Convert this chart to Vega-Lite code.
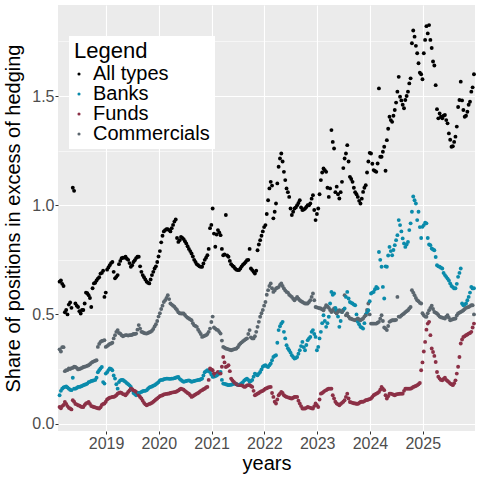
{
"$schema": "https://vega.github.io/schema/vega-lite/v6.json",
"width": 417, "height": 426,
"autosize": {"type": "none"},
"padding": {"left": 58, "top": 5, "right": 5, "bottom": 49},
"background": "white",
"config": {"view": {"fill": "#EBEBEB", "stroke": null}, "font": "Liberation Sans"},
"data": {"values": [
{"t":2018.12,"All types":0.65,"Banks":0.13,"Funds":0.076,"Commercials":0.34},
{"t":2018.145,"All types":0.655,"Banks":0.15,"Funds":0.07,"Commercials":0.33},
{"t":2018.17,"All types":0.64,"Banks":0.16,"Funds":0.08,"Commercials":0.35},
{"t":2018.195,"All types":0.63,"Banks":0.165,"Funds":0.085,"Commercials":0.35},
{"t":2018.22,"All types":0.51,"Banks":0.168,"Funds":0.099,"Commercials":0.24},
{"t":2018.245,"All types":0.52,"Banks":0.17,"Funds":0.09,"Commercials":0.244},
{"t":2018.27,"All types":0.50,"Banks":0.165,"Funds":0.08,"Commercials":0.245},
{"t":2018.295,"All types":0.545,"Banks":0.16,"Funds":0.072,"Commercials":0.252},
{"t":2018.32,"All types":0.555,"Banks":0.155,"Funds":0.069,"Commercials":0.25},
{"t":2018.345,"All types":0.53,"Banks":0.153,"Funds":0.065,"Commercials":0.254},
{"t":2018.37,"All types":1.08,"Banks":0.21,"Funds":0.107,"Commercials":0.255},
{"t":2018.395,"All types":1.066,"Banks":0.16,"Funds":0.1,"Commercials":0.26},
{"t":2018.42,"All types":0.55,"Banks":0.16,"Funds":0.09,"Commercials":0.259},
{"t":2018.445,"All types":0.54,"Banks":0.163,"Funds":0.088,"Commercials":0.255},
{"t":2018.47,"All types":0.534,"Banks":0.168,"Funds":0.084,"Commercials":0.248},
{"t":2018.495,"All types":0.515,"Banks":0.168,"Funds":0.082,"Commercials":0.25},
{"t":2018.52,"All types":0.504,"Banks":0.17,"Funds":0.078,"Commercials":0.252},
{"t":2018.545,"All types":0.52,"Banks":0.172,"Funds":0.076,"Commercials":0.255},
{"t":2018.57,"All types":0.52,"Banks":0.176,"Funds":0.076,"Commercials":0.259},
{"t":2018.595,"All types":0.55,"Banks":0.178,"Funds":0.085,"Commercials":0.26},
{"t":2018.62,"All types":0.60,"Banks":0.18,"Funds":0.092,"Commercials":0.262},
{"t":2018.645,"All types":0.597,"Banks":0.183,"Funds":0.095,"Commercials":0.265},
{"t":2018.67,"All types":0.588,"Banks":0.19,"Funds":0.099,"Commercials":0.267},
{"t":2018.695,"All types":0.575,"Banks":0.191,"Funds":0.09,"Commercials":0.272},
{"t":2018.72,"All types":0.534,"Banks":0.195,"Funds":0.08,"Commercials":0.278},
{"t":2018.745,"All types":0.62,"Banks":0.196,"Funds":0.078,"Commercials":0.282},
{"t":2018.77,"All types":0.642,"Banks":0.198,"Funds":0.076,"Commercials":0.285},
{"t":2018.795,"All types":0.645,"Banks":0.2,"Funds":0.074,"Commercials":0.288},
{"t":2018.82,"All types":0.655,"Banks":0.21,"Funds":0.072,"Commercials":0.29},
{"t":2018.845,"All types":0.664,"Banks":0.235,"Funds":0.07,"Commercials":0.351},
{"t":2018.87,"All types":0.67,"Banks":0.244,"Funds":0.069,"Commercials":0.365},
{"t":2018.895,"All types":0.687,"Banks":0.252,"Funds":0.075,"Commercials":0.374},
{"t":2018.92,"All types":0.69,"Banks":0.259,"Funds":0.085,"Commercials":0.378},
{"t":2018.945,"All types":0.70,"Banks":0.19,"Funds":0.09,"Commercials":0.38},
{"t":2018.97,"All types":0.58,"Banks":0.183,"Funds":0.092,"Commercials":0.382},
{"t":2018.995,"All types":0.60,"Banks":0.229,"Funds":0.1,"Commercials":0.351},
{"t":2019.02,"All types":0.705,"Banks":0.235,"Funds":0.11,"Commercials":0.355},
{"t":2019.045,"All types":0.715,"Banks":0.245,"Funds":0.115,"Commercials":0.36},
{"t":2019.07,"All types":0.725,"Banks":0.252,"Funds":0.118,"Commercials":0.365},
{"t":2019.095,"All types":0.735,"Banks":0.25,"Funds":0.12,"Commercials":0.367},
{"t":2019.12,"All types":0.74,"Banks":0.244,"Funds":0.122,"Commercials":0.37},
{"t":2019.145,"All types":0.695,"Banks":0.22,"Funds":0.122,"Commercials":0.39},
{"t":2019.17,"All types":0.665,"Banks":0.206,"Funds":0.125,"Commercials":0.405},
{"t":2019.195,"All types":0.672,"Banks":0.18,"Funds":0.13,"Commercials":0.42},
{"t":2019.22,"All types":0.68,"Banks":0.16,"Funds":0.137,"Commercials":0.428},
{"t":2019.245,"All types":0.73,"Banks":0.19,"Funds":0.14,"Commercials":0.415},
{"t":2019.27,"All types":0.745,"Banks":0.198,"Funds":0.143,"Commercials":0.412},
{"t":2019.295,"All types":0.757,"Banks":0.2,"Funds":0.14,"Commercials":0.405},
{"t":2019.32,"All types":0.76,"Banks":0.2,"Funds":0.135,"Commercials":0.40},
{"t":2019.345,"All types":0.76,"Banks":0.195,"Funds":0.133,"Commercials":0.403},
{"t":2019.37,"All types":0.764,"Banks":0.191,"Funds":0.13,"Commercials":0.405},
{"t":2019.395,"All types":0.755,"Banks":0.185,"Funds":0.137,"Commercials":0.405},
{"t":2019.42,"All types":0.75,"Banks":0.18,"Funds":0.145,"Commercials":0.403},
{"t":2019.445,"All types":0.735,"Banks":0.175,"Funds":0.152,"Commercials":0.405},
{"t":2019.47,"All types":0.718,"Banks":0.168,"Funds":0.16,"Commercials":0.405},
{"t":2019.495,"All types":0.725,"Banks":0.155,"Funds":0.157,"Commercials":0.407},
{"t":2019.52,"All types":0.74,"Banks":0.14,"Funds":0.152,"Commercials":0.41},
{"t":2019.545,"All types":0.748,"Banks":0.135,"Funds":0.15,"Commercials":0.41},
{"t":2019.57,"All types":0.758,"Banks":0.13,"Funds":0.145,"Commercials":0.412},
{"t":2019.595,"All types":0.764,"Banks":0.135,"Funds":0.14,"Commercials":0.43},
{"t":2019.62,"All types":0.764,"Banks":0.14,"Funds":0.13,"Commercials":0.451},
{"t":2019.645,"All types":0.72,"Banks":0.142,"Funds":0.122,"Commercials":0.435},
{"t":2019.67,"All types":0.695,"Banks":0.145,"Funds":0.115,"Commercials":0.42},
{"t":2019.695,"All types":0.68,"Banks":0.148,"Funds":0.105,"Commercials":0.418},
{"t":2019.72,"All types":0.67,"Banks":0.15,"Funds":0.095,"Commercials":0.415},
{"t":2019.745,"All types":0.66,"Banks":0.15,"Funds":0.088,"Commercials":0.413},
{"t":2019.77,"All types":0.65,"Banks":0.153,"Funds":0.084,"Commercials":0.412},
{"t":2019.795,"All types":0.645,"Banks":0.16,"Funds":0.087,"Commercials":0.415},
{"t":2019.82,"All types":0.642,"Banks":0.165,"Funds":0.09,"Commercials":0.418},
{"t":2019.845,"All types":0.66,"Banks":0.168,"Funds":0.092,"Commercials":0.42},
{"t":2019.87,"All types":0.68,"Banks":0.17,"Funds":0.095,"Commercials":0.425},
{"t":2019.895,"All types":0.695,"Banks":0.173,"Funds":0.1,"Commercials":0.433},
{"t":2019.92,"All types":0.71,"Banks":0.176,"Funds":0.105,"Commercials":0.445},
{"t":2019.945,"All types":0.72,"Banks":0.18,"Funds":0.11,"Commercials":0.455},
{"t":2019.97,"All types":0.74,"Banks":0.185,"Funds":0.115,"Commercials":0.47},
{"t":2019.995,"All types":0.765,"Banks":0.19,"Funds":0.12,"Commercials":0.49},
{"t":2020.02,"All types":0.79,"Banks":0.198,"Funds":0.125,"Commercials":0.505},
{"t":2020.045,"All types":0.83,"Banks":0.2,"Funds":0.128,"Commercials":0.525},
{"t":2020.07,"All types":0.86,"Banks":0.2,"Funds":0.13,"Commercials":0.54},
{"t":2020.095,"All types":0.88,"Banks":0.203,"Funds":0.133,"Commercials":0.557},
{"t":2020.12,"All types":0.886,"Banks":0.205,"Funds":0.135,"Commercials":0.565},
{"t":2020.145,"All types":0.89,"Banks":0.206,"Funds":0.136,"Commercials":0.575},
{"t":2020.17,"All types":0.89,"Banks":0.206,"Funds":0.137,"Commercials":0.588},
{"t":2020.195,"All types":0.886,"Banks":0.205,"Funds":0.138,"Commercials":0.57},
{"t":2020.22,"All types":0.88,"Banks":0.205,"Funds":0.14,"Commercials":0.55},
{"t":2020.245,"All types":0.895,"Banks":0.206,"Funds":0.142,"Commercials":0.545},
{"t":2020.27,"All types":0.91,"Banks":0.206,"Funds":0.143,"Commercials":0.54},
{"t":2020.295,"All types":0.925,"Banks":0.208,"Funds":0.144,"Commercials":0.535},
{"t":2020.32,"All types":0.935,"Banks":0.21,"Funds":0.145,"Commercials":0.527},
{"t":2020.345,"All types":0.85,"Banks":0.212,"Funds":0.148,"Commercials":0.52},
{"t":2020.37,"All types":0.832,"Banks":0.214,"Funds":0.152,"Commercials":0.51},
{"t":2020.395,"All types":0.84,"Banks":0.205,"Funds":0.156,"Commercials":0.505},
{"t":2020.42,"All types":0.855,"Banks":0.2,"Funds":0.16,"Commercials":0.504},
{"t":2020.445,"All types":0.85,"Banks":0.195,"Funds":0.158,"Commercials":0.504},
{"t":2020.47,"All types":0.845,"Banks":0.191,"Funds":0.155,"Commercials":0.504},
{"t":2020.495,"All types":0.835,"Banks":0.193,"Funds":0.15,"Commercials":0.497},
{"t":2020.52,"All types":0.825,"Banks":0.195,"Funds":0.145,"Commercials":0.49},
{"t":2020.545,"All types":0.812,"Banks":0.197,"Funds":0.14,"Commercials":0.485},
{"t":2020.57,"All types":0.80,"Banks":0.198,"Funds":0.137,"Commercials":0.481},
{"t":2020.595,"All types":0.79,"Banks":0.195,"Funds":0.13,"Commercials":0.477},
{"t":2020.62,"All types":0.779,"Banks":0.191,"Funds":0.122,"Commercials":0.473},
{"t":2020.645,"All types":0.765,"Banks":0.193,"Funds":0.125,"Commercials":0.46},
{"t":2020.67,"All types":0.75,"Banks":0.195,"Funds":0.13,"Commercials":0.45},
{"t":2020.695,"All types":0.74,"Banks":0.197,"Funds":0.133,"Commercials":0.447},
{"t":2020.72,"All types":0.73,"Banks":0.198,"Funds":0.137,"Commercials":0.443},
{"t":2020.745,"All types":0.725,"Banks":0.2,"Funds":0.14,"Commercials":0.43},
{"t":2020.77,"All types":0.72,"Banks":0.2,"Funds":0.145,"Commercials":0.42},
{"t":2020.795,"All types":0.718,"Banks":0.203,"Funds":0.15,"Commercials":0.41},
{"t":2020.82,"All types":0.718,"Banks":0.206,"Funds":0.153,"Commercials":0.397},
{"t":2020.845,"All types":0.733,"Banks":0.22,"Funds":0.157,"Commercials":0.40},
{"t":2020.87,"All types":0.75,"Banks":0.235,"Funds":0.16,"Commercials":0.402},
{"t":2020.895,"All types":0.76,"Banks":0.24,"Funds":0.165,"Commercials":0.405},
{"t":2020.92,"All types":0.771,"Banks":0.244,"Funds":0.168,"Commercials":0.41},
{"t":2020.945,"All types":0.80,"Banks":0.24,"Funds":0.2,"Commercials":0.42},
{"t":2020.97,"All types":0.895,"Banks":0.236,"Funds":0.252,"Commercials":0.435},
{"t":2020.995,"All types":0.91,"Banks":0.225,"Funds":0.248,"Commercials":0.465},
{"t":2021.02,"All types":0.985,"Banks":0.214,"Funds":0.244,"Commercials":0.49},
{"t":2021.045,"All types":0.87,"Banks":0.215,"Funds":0.23,"Commercials":0.44},
{"t":2021.07,"All types":0.81,"Banks":0.218,"Funds":0.221,"Commercials":0.435},
{"t":2021.095,"All types":0.866,"Banks":0.22,"Funds":0.23,"Commercials":0.43},
{"t":2021.12,"All types":0.886,"Banks":0.225,"Funds":0.236,"Commercials":0.428},
{"t":2021.145,"All types":0.875,"Banks":0.23,"Funds":0.233,"Commercials":0.42},
{"t":2021.17,"All types":0.863,"Banks":0.236,"Funds":0.229,"Commercials":0.412},
{"t":2021.195,"All types":0.80,"Banks":0.2,"Funds":0.26,"Commercials":0.38},
{"t":2021.22,"All types":0.771,"Banks":0.183,"Funds":0.305,"Commercials":0.351},
{"t":2021.245,"All types":0.775,"Banks":0.182,"Funds":0.28,"Commercials":0.347},
{"t":2021.27,"All types":0.955,"Banks":0.18,"Funds":0.259,"Commercials":0.344},
{"t":2021.295,"All types":0.77,"Banks":0.178,"Funds":0.262,"Commercials":0.342},
{"t":2021.32,"All types":0.764,"Banks":0.176,"Funds":0.267,"Commercials":0.34},
{"t":2021.345,"All types":0.745,"Banks":0.177,"Funds":0.24,"Commercials":0.338},
{"t":2021.37,"All types":0.73,"Banks":0.178,"Funds":0.206,"Commercials":0.336},
{"t":2021.395,"All types":0.723,"Banks":0.18,"Funds":0.198,"Commercials":0.338},
{"t":2021.42,"All types":0.718,"Banks":0.183,"Funds":0.191,"Commercials":0.34},
{"t":2021.445,"All types":0.71,"Banks":0.182,"Funds":0.185,"Commercials":0.342},
{"t":2021.47,"All types":0.705,"Banks":0.18,"Funds":0.18,"Commercials":0.344},
{"t":2021.495,"All types":0.703,"Banks":0.178,"Funds":0.178,"Commercials":0.35},
{"t":2021.52,"All types":0.703,"Banks":0.176,"Funds":0.176,"Commercials":0.36},
{"t":2021.545,"All types":0.71,"Banks":0.18,"Funds":0.176,"Commercials":0.367},
{"t":2021.57,"All types":0.72,"Banks":0.185,"Funds":0.176,"Commercials":0.372},
{"t":2021.595,"All types":0.728,"Banks":0.19,"Funds":0.172,"Commercials":0.377},
{"t":2021.62,"All types":0.733,"Banks":0.198,"Funds":0.168,"Commercials":0.382},
{"t":2021.645,"All types":0.74,"Banks":0.202,"Funds":0.17,"Commercials":0.386},
{"t":2021.67,"All types":0.748,"Banks":0.206,"Funds":0.175,"Commercials":0.39},
{"t":2021.695,"All types":0.75,"Banks":0.2,"Funds":0.176,"Commercials":0.41},
{"t":2021.72,"All types":0.80,"Banks":0.191,"Funds":0.176,"Commercials":0.428},
{"t":2021.745,"All types":0.71,"Banks":0.195,"Funds":0.172,"Commercials":0.395},
{"t":2021.77,"All types":0.703,"Banks":0.2,"Funds":0.168,"Commercials":0.39},
{"t":2021.795,"All types":0.695,"Banks":0.215,"Funds":0.15,"Commercials":0.39},
{"t":2021.82,"All types":0.687,"Banks":0.229,"Funds":0.13,"Commercials":0.40},
{"t":2021.845,"All types":0.70,"Banks":0.225,"Funds":0.133,"Commercials":0.42},
{"t":2021.87,"All types":0.794,"Banks":0.221,"Funds":0.137,"Commercials":0.443},
{"t":2021.895,"All types":0.82,"Banks":0.229,"Funds":0.14,"Commercials":0.466},
{"t":2021.92,"All types":0.84,"Banks":0.236,"Funds":0.145,"Commercials":0.489},
{"t":2021.945,"All types":0.86,"Banks":0.248,"Funds":0.148,"Commercials":0.505},
{"t":2021.97,"All types":0.88,"Banks":0.26,"Funds":0.15,"Commercials":0.52},
{"t":2021.995,"All types":0.9,"Banks":0.265,"Funds":0.155,"Commercials":0.54},
{"t":2022.02,"All types":0.909,"Banks":0.267,"Funds":0.16,"Commercials":0.557},
{"t":2022.045,"All types":0.96,"Banks":0.262,"Funds":0.162,"Commercials":0.59},
{"t":2022.07,"All types":1.023,"Banks":0.259,"Funds":0.165,"Commercials":0.611},
{"t":2022.095,"All types":1.077,"Banks":0.267,"Funds":0.167,"Commercials":0.63},
{"t":2022.12,"All types":1.107,"Banks":0.275,"Funds":0.168,"Commercials":0.642},
{"t":2022.145,"All types":1.09,"Banks":0.29,"Funds":0.14,"Commercials":0.62},
{"t":2022.17,"All types":0.94,"Banks":0.305,"Funds":0.122,"Commercials":0.603},
{"t":2022.195,"All types":0.97,"Banks":0.31,"Funds":0.1,"Commercials":0.61},
{"t":2022.22,"All types":1.008,"Banks":0.313,"Funds":0.092,"Commercials":0.619},
{"t":2022.245,"All types":1.1,"Banks":0.37,"Funds":0.11,"Commercials":0.622},
{"t":2022.27,"All types":1.176,"Banks":0.428,"Funds":0.13,"Commercials":0.625},
{"t":2022.295,"All types":1.214,"Banks":0.446,"Funds":0.137,"Commercials":0.635},
{"t":2022.32,"All types":1.237,"Banks":0.458,"Funds":0.145,"Commercials":0.642},
{"t":2022.345,"All types":1.2,"Banks":0.466,"Funds":0.14,"Commercials":0.63},
{"t":2022.37,"All types":1.153,"Banks":0.42,"Funds":0.13,"Commercials":0.619},
{"t":2022.395,"All types":1.115,"Banks":0.39,"Funds":0.125,"Commercials":0.61},
{"t":2022.42,"All types":1.077,"Banks":0.359,"Funds":0.122,"Commercials":0.603},
{"t":2022.445,"All types":1.06,"Banks":0.345,"Funds":0.12,"Commercials":0.6},
{"t":2022.47,"All types":1.038,"Banks":0.336,"Funds":0.118,"Commercials":0.59},
{"t":2022.495,"All types":0.985,"Banks":0.325,"Funds":0.116,"Commercials":0.585},
{"t":2022.52,"All types":0.955,"Banks":0.313,"Funds":0.115,"Commercials":0.58},
{"t":2022.545,"All types":0.97,"Banks":0.305,"Funds":0.118,"Commercials":0.572},
{"t":2022.57,"All types":0.985,"Banks":0.298,"Funds":0.122,"Commercials":0.565},
{"t":2022.595,"All types":0.99,"Banks":0.3,"Funds":0.122,"Commercials":0.572},
{"t":2022.62,"All types":1.00,"Banks":0.305,"Funds":0.122,"Commercials":0.58},
{"t":2022.645,"All types":1.01,"Banks":0.32,"Funds":0.105,"Commercials":0.572},
{"t":2022.67,"All types":1.023,"Banks":0.336,"Funds":0.092,"Commercials":0.565},
{"t":2022.695,"All types":0.99,"Banks":0.355,"Funds":0.08,"Commercials":0.56},
{"t":2022.72,"All types":0.978,"Banks":0.374,"Funds":0.069,"Commercials":0.557},
{"t":2022.745,"All types":0.98,"Banks":0.35,"Funds":0.069,"Commercials":0.553},
{"t":2022.77,"All types":0.985,"Banks":0.336,"Funds":0.069,"Commercials":0.55},
{"t":2022.795,"All types":0.992,"Banks":0.36,"Funds":0.072,"Commercials":0.55},
{"t":2022.82,"All types":1.0,"Banks":0.382,"Funds":0.076,"Commercials":0.55},
{"t":2022.845,"All types":1.0,"Banks":0.39,"Funds":0.074,"Commercials":0.557},
{"t":2022.87,"All types":1.008,"Banks":0.397,"Funds":0.072,"Commercials":0.565},
{"t":2022.895,"All types":1.03,"Banks":0.42,"Funds":0.07,"Commercials":0.58},
{"t":2022.92,"All types":1.046,"Banks":0.428,"Funds":0.069,"Commercials":0.596},
{"t":2022.945,"All types":0.978,"Banks":0.41,"Funds":0.08,"Commercials":0.565},
{"t":2022.97,"All types":0.932,"Banks":0.397,"Funds":0.092,"Commercials":0.534},
{"t":2022.995,"All types":0.96,"Banks":0.336,"Funds":0.084,"Commercials":0.532},
{"t":2023.02,"All types":0.985,"Banks":0.351,"Funds":0.076,"Commercials":0.53},
{"t":2023.045,"All types":1.05,"Banks":0.39,"Funds":0.11,"Commercials":0.528},
{"t":2023.07,"All types":1.115,"Banks":0.42,"Funds":0.137,"Commercials":0.527},
{"t":2023.095,"All types":1.15,"Banks":0.46,"Funds":0.14,"Commercials":0.523},
{"t":2023.12,"All types":1.168,"Banks":0.496,"Funds":0.145,"Commercials":0.519},
{"t":2023.145,"All types":1.16,"Banks":0.47,"Funds":0.15,"Commercials":0.53},
{"t":2023.17,"All types":1.153,"Banks":0.443,"Funds":0.153,"Commercials":0.542},
{"t":2023.195,"All types":1.08,"Banks":0.46,"Funds":0.157,"Commercials":0.536},
{"t":2023.22,"All types":1.038,"Banks":0.489,"Funds":0.16,"Commercials":0.53},
{"t":2023.245,"All types":1.077,"Banks":0.55,"Funds":0.16,"Commercials":0.52},
{"t":2023.27,"All types":1.344,"Banks":0.603,"Funds":0.16,"Commercials":0.511},
{"t":2023.295,"All types":1.29,"Banks":0.59,"Funds":0.13,"Commercials":0.519},
{"t":2023.32,"All types":1.26,"Banks":0.596,"Funds":0.115,"Commercials":0.527},
{"t":2023.345,"All types":1.06,"Banks":0.53,"Funds":0.1,"Commercials":0.51},
{"t":2023.37,"All types":1.085,"Banks":0.519,"Funds":0.092,"Commercials":0.504},
{"t":2023.395,"All types":1.05,"Banks":0.49,"Funds":0.088,"Commercials":0.512},
{"t":2023.42,"All types":1.031,"Banks":0.443,"Funds":0.084,"Commercials":0.519},
{"t":2023.445,"All types":1.06,"Banks":0.47,"Funds":0.09,"Commercials":0.515},
{"t":2023.47,"All types":1.107,"Banks":0.511,"Funds":0.095,"Commercials":0.511},
{"t":2023.495,"All types":1.17,"Banks":0.52,"Funds":0.1,"Commercials":0.52},
{"t":2023.52,"All types":1.214,"Banks":0.527,"Funds":0.107,"Commercials":0.588},
{"t":2023.545,"All types":1.237,"Banks":0.58,"Funds":0.122,"Commercials":0.496},
{"t":2023.57,"All types":1.275,"Banks":0.603,"Funds":0.137,"Commercials":0.504},
{"t":2023.595,"All types":1.2,"Banks":0.573,"Funds":0.115,"Commercials":0.49},
{"t":2023.62,"All types":1.13,"Banks":0.557,"Funds":0.099,"Commercials":0.481},
{"t":2023.645,"All types":1.12,"Banks":0.553,"Funds":0.097,"Commercials":0.48},
{"t":2023.67,"All types":1.107,"Banks":0.55,"Funds":0.095,"Commercials":0.477},
{"t":2023.695,"All types":1.08,"Banks":0.545,"Funds":0.093,"Commercials":0.475},
{"t":2023.72,"All types":1.06,"Banks":0.542,"Funds":0.092,"Commercials":0.473},
{"t":2023.745,"All types":1.05,"Banks":0.5,"Funds":0.091,"Commercials":0.477},
{"t":2023.77,"All types":1.038,"Banks":0.466,"Funds":0.09,"Commercials":0.481},
{"t":2023.795,"All types":1.02,"Banks":0.455,"Funds":0.094,"Commercials":0.477},
{"t":2023.82,"All types":1.008,"Banks":0.443,"Funds":0.099,"Commercials":0.473},
{"t":2023.845,"All types":1.03,"Banks":0.44,"Funds":0.1,"Commercials":0.477},
{"t":2023.87,"All types":1.061,"Banks":0.435,"Funds":0.1,"Commercials":0.481},
{"t":2023.895,"All types":1.08,"Banks":0.46,"Funds":0.103,"Commercials":0.49},
{"t":2023.92,"All types":1.092,"Banks":0.5,"Funds":0.107,"Commercials":0.496},
{"t":2023.945,"All types":1.15,"Banks":0.51,"Funds":0.108,"Commercials":0.52},
{"t":2023.97,"All types":1.2,"Banks":0.519,"Funds":0.11,"Commercials":0.55},
{"t":2023.995,"All types":1.24,"Banks":0.56,"Funds":0.112,"Commercials":0.5},
{"t":2024.02,"All types":1.237,"Banks":0.596,"Funds":0.115,"Commercials":0.458},
{"t":2024.045,"All types":1.19,"Banks":0.6,"Funds":0.122,"Commercials":0.458},
{"t":2024.07,"All types":1.161,"Banks":0.603,"Funds":0.13,"Commercials":0.458},
{"t":2024.095,"All types":1.157,"Banks":0.615,"Funds":0.133,"Commercials":0.458},
{"t":2024.12,"All types":1.153,"Banks":0.626,"Funds":0.137,"Commercials":0.458},
{"t":2024.145,"All types":1.191,"Banks":0.62,"Funds":0.14,"Commercials":0.462},
{"t":2024.17,"All types":1.535,"Banks":0.786,"Funds":0.145,"Commercials":0.466},
{"t":2024.195,"All types":1.222,"Banks":0.75,"Funds":0.155,"Commercials":0.48},
{"t":2024.22,"All types":1.222,"Banks":0.718,"Funds":0.168,"Commercials":0.496},
{"t":2024.245,"All types":1.245,"Banks":0.626,"Funds":0.16,"Commercials":0.47},
{"t":2024.27,"All types":1.268,"Banks":0.573,"Funds":0.153,"Commercials":0.44},
{"t":2024.295,"All types":1.158,"Banks":0.72,"Funds":0.13,"Commercials":0.435},
{"t":2024.32,"All types":1.298,"Banks":0.718,"Funds":0.115,"Commercials":0.428},
{"t":2024.345,"All types":1.35,"Banks":0.77,"Funds":0.125,"Commercials":0.447},
{"t":2024.37,"All types":1.405,"Banks":0.809,"Funds":0.137,"Commercials":0.466},
{"t":2024.395,"All types":1.39,"Banks":0.79,"Funds":0.137,"Commercials":0.47},
{"t":2024.42,"All types":1.382,"Banks":0.771,"Funds":0.135,"Commercials":0.473},
{"t":2024.445,"All types":1.41,"Banks":0.795,"Funds":0.132,"Commercials":0.473},
{"t":2024.47,"All types":1.436,"Banks":0.817,"Funds":0.13,"Commercials":0.473},
{"t":2024.495,"All types":1.47,"Banks":0.84,"Funds":0.133,"Commercials":0.475},
{"t":2024.52,"All types":1.52,"Banks":0.863,"Funds":0.135,"Commercials":0.58},
{"t":2024.545,"All types":1.588,"Banks":0.932,"Funds":0.136,"Commercials":0.49},
{"t":2024.57,"All types":1.497,"Banks":0.909,"Funds":0.137,"Commercials":0.489},
{"t":2024.595,"All types":1.48,"Banks":0.88,"Funds":0.137,"Commercials":0.495},
{"t":2024.62,"All types":1.46,"Banks":0.848,"Funds":0.137,"Commercials":0.50},
{"t":2024.645,"All types":1.444,"Banks":0.825,"Funds":0.15,"Commercials":0.504},
{"t":2024.67,"All types":1.482,"Banks":0.809,"Funds":0.16,"Commercials":0.51},
{"t":2024.695,"All types":1.5,"Banks":0.82,"Funds":0.16,"Commercials":0.515},
{"t":2024.72,"All types":1.52,"Banks":0.832,"Funds":0.16,"Commercials":0.519},
{"t":2024.745,"All types":1.558,"Banks":0.886,"Funds":0.16,"Commercials":0.527},
{"t":2024.77,"All types":1.581,"Banks":0.917,"Funds":0.16,"Commercials":0.534},
{"t":2024.795,"All types":1.742,"Banks":0.97,"Funds":0.163,"Commercials":0.611},
{"t":2024.82,"All types":1.80,"Banks":1.04,"Funds":0.168,"Commercials":0.60},
{"t":2024.845,"All types":1.772,"Banks":1.023,"Funds":0.17,"Commercials":0.588},
{"t":2024.87,"All types":1.73,"Banks":1.008,"Funds":0.172,"Commercials":0.575},
{"t":2024.895,"All types":1.696,"Banks":0.932,"Funds":0.176,"Commercials":0.565},
{"t":2024.92,"All types":1.65,"Banks":0.97,"Funds":0.18,"Commercials":0.56},
{"t":2024.945,"All types":1.607,"Banks":0.9,"Funds":0.186,"Commercials":0.553},
{"t":2024.97,"All types":1.60,"Banks":0.85,"Funds":0.244,"Commercials":0.55},
{"t":2024.995,"All types":1.577,"Banks":0.901,"Funds":0.28,"Commercials":0.505},
{"t":2025.02,"All types":1.696,"Banks":0.909,"Funds":0.33,"Commercials":0.496},
{"t":2025.045,"All types":1.757,"Banks":0.92,"Funds":0.374,"Commercials":0.49},
{"t":2025.07,"All types":1.82,"Banks":0.917,"Funds":0.43,"Commercials":0.489},
{"t":2025.095,"All types":1.787,"Banks":0.85,"Funds":0.458,"Commercials":0.505},
{"t":2025.12,"All types":1.825,"Banks":0.82,"Funds":0.466,"Commercials":0.519},
{"t":2025.145,"All types":1.757,"Banks":0.817,"Funds":0.405,"Commercials":0.53},
{"t":2025.17,"All types":1.72,"Banks":0.802,"Funds":0.344,"Commercials":0.54},
{"t":2025.195,"All types":1.658,"Banks":0.797,"Funds":0.328,"Commercials":0.525},
{"t":2025.22,"All types":1.64,"Banks":0.794,"Funds":0.31,"Commercials":0.511},
{"t":2025.245,"All types":1.55,"Banks":0.763,"Funds":0.282,"Commercials":0.508},
{"t":2025.27,"All types":1.44,"Banks":0.725,"Funds":0.236,"Commercials":0.504},
{"t":2025.295,"All types":1.398,"Banks":0.72,"Funds":0.215,"Commercials":0.497},
{"t":2025.32,"All types":1.42,"Banks":0.718,"Funds":0.206,"Commercials":0.49},
{"t":2025.345,"All types":1.405,"Banks":0.714,"Funds":0.2,"Commercials":0.487},
{"t":2025.37,"All types":1.398,"Banks":0.71,"Funds":0.198,"Commercials":0.485},
{"t":2025.395,"All types":1.41,"Banks":0.69,"Funds":0.205,"Commercials":0.483},
{"t":2025.42,"All types":1.413,"Banks":0.68,"Funds":0.21,"Commercials":0.481},
{"t":2025.445,"All types":1.39,"Banks":0.672,"Funds":0.2,"Commercials":0.49},
{"t":2025.47,"All types":1.375,"Banks":0.664,"Funds":0.195,"Commercials":0.496},
{"t":2025.495,"All types":1.329,"Banks":0.655,"Funds":0.19,"Commercials":0.485},
{"t":2025.52,"All types":1.3,"Banks":0.642,"Funds":0.183,"Commercials":0.473},
{"t":2025.545,"All types":1.268,"Banks":0.63,"Funds":0.18,"Commercials":0.476},
{"t":2025.57,"All types":1.27,"Banks":0.625,"Funds":0.176,"Commercials":0.478},
{"t":2025.595,"All types":1.29,"Banks":0.619,"Funds":0.185,"Commercials":0.48},
{"t":2025.62,"All types":1.314,"Banks":0.62,"Funds":0.198,"Commercials":0.481},
{"t":2025.645,"All types":1.36,"Banks":0.64,"Funds":0.229,"Commercials":0.495},
{"t":2025.67,"All types":1.45,"Banks":0.672,"Funds":0.26,"Commercials":0.504},
{"t":2025.695,"All types":1.482,"Banks":0.69,"Funds":0.305,"Commercials":0.508},
{"t":2025.72,"All types":1.566,"Banks":0.71,"Funds":0.367,"Commercials":0.511},
{"t":2025.745,"All types":1.48,"Banks":0.55,"Funds":0.385,"Commercials":0.515},
{"t":2025.77,"All types":1.436,"Banks":0.542,"Funds":0.397,"Commercials":0.519},
{"t":2025.795,"All types":1.405,"Banks":0.545,"Funds":0.4,"Commercials":0.525},
{"t":2025.82,"All types":1.41,"Banks":0.55,"Funds":0.405,"Commercials":0.53},
{"t":2025.845,"All types":1.428,"Banks":0.565,"Funds":0.408,"Commercials":0.532},
{"t":2025.87,"All types":1.46,"Banks":0.58,"Funds":0.412,"Commercials":0.534},
{"t":2025.895,"All types":1.474,"Banks":0.6,"Funds":0.415,"Commercials":0.538},
{"t":2025.92,"All types":1.52,"Banks":0.626,"Funds":0.42,"Commercials":0.542},
{"t":2025.945,"All types":1.54,"Banks":0.619,"Funds":0.44,"Commercials":0.542},
{"t":2025.97,"All types":1.6,"Banks":0.62,"Funds":0.458,"Commercials":0.50}
]},
"transform": [{"fold": ["All types", "Banks", "Funds", "Commercials"], "as": ["series", "value"]}],
"mark": {"type": "circle", "size": 15, "opacity": 1},
"encoding": {
  "x": {"field": "t", "type": "quantitative",
    "scale": {"domain": [2018.09, 2025.99], "nice": false, "zero": false},
    "axis": {"title": "years", "values": [2019, 2020, 2021, 2022, 2023, 2024, 2025], "format": "d",
      "labelFontSize": 16, "labelColor": "#4D4D4D", "labelPadding": 1, "labelFlush": false,
      "tickColor": "#333333", "tickSize": 3, "tickWidth": 1, "domain": false,
      "gridColor": "white", "gridWidth": 1.1,
      "titleFontSize": 20, "titleFontWeight": "normal", "titleColor": "black", "titlePadding": 2}},
  "y": {"field": "value", "type": "quantitative",
    "scale": {"domain": [-0.034, 1.917], "nice": false, "zero": false},
    "axis": {"title": "Share of positions in excess of hedging",
      "values": [0, 0.25, 0.5, 0.75, 1, 1.25, 1.5, 1.75],
      "labelExpr": "datum.value % 0.5 === 0 ? format(datum.value, '.1f') : ''",
      "labelFontSize": 16, "labelColor": "#4D4D4D", "labelPadding": 1,
      "tickColor": "#333333", "tickSize": 3, "tickWidth": 1, "domain": false,
      "tickOpacity": {"condition": {"test": "datum.value % 0.5 !== 0", "value": 0}, "value": 1},
      "gridColor": "white",
      "gridWidth": {"condition": {"test": "datum.value % 0.5 !== 0", "value": 0.55}, "value": 1.1},
      "titleFontSize": 20, "titleFontWeight": "normal", "titleColor": "black", "titlePadding": 8}},
  "color": {"field": "series", "type": "nominal",
    "scale": {"domain": ["All types", "Banks", "Funds", "Commercials"], "range": ["#000000", "#0a8bab", "#8c3046", "#5b666e"]},
    "legend": {"orient": "none", "legendX": 11, "legendY": 31, "title": "Legend",
      "titleFontSize": 22, "titleFontWeight": "normal", "titleColor": "black", "titlePadding": 1,
      "labelFontSize": 20, "labelColor": "black", "fillColor": "white", "padding": 5,
      "symbolType": "circle", "symbolSize": 10, "symbolOffset": -5, "labelOffset": 4, "rowPadding": -1.5}}
}
}
